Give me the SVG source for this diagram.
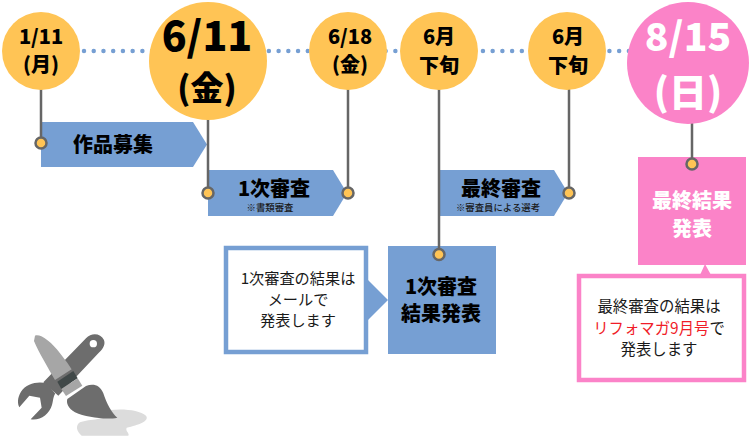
<svg xmlns="http://www.w3.org/2000/svg" width="750" height="440" viewBox="0 0 750 440">
<style>
text{font-family:"Noto Sans CJK JP","Noto Sans",sans-serif;text-anchor:middle}
.b{font-weight:900;fill:#000}
.w{font-weight:900;fill:#fff}
.t{font-size:15.200px;fill:#1a1a1a}
.s{font-size:9.400px;fill:#1a1a1a;font-weight:500}
.o{fill:#ffc455}
.p{fill:#fb83c8}
.bl{fill:#769fd3}
.pin{fill:#ffc455;stroke:#666;stroke-width:2.5}
.ln{stroke:#666;stroke-width:2.5;fill:none}
</style>
<rect width="750" height="440" fill="#fff"/>
<g id="connectors">
<path d="M84 51H632" fill="none" stroke="#769fd3" stroke-width="4.5" stroke-linecap="round" stroke-dasharray="0 9.73"/>
</g>
<g id="node-recruit"><path class="bl" d="M41 122H193L207 144.500L193 167H41Z"/><text class="b" x="113" y="152" font-size="20">作品募集</text></g>
<g id="node-first"><path class="bl" d="M208 170H333L347 193L333 216H208Z"/><text class="b" x="274" y="196" font-size="20">1次審査</text><text class="s" x="270" y="211">※書類審査</text></g>
<g id="node-final"><path class="bl" d="M440 170H554L568 193L554 216H440Z"/><text class="b" x="501" y="196" font-size="20">最終審査</text><text class="s" x="498" y="211">※審査員による選考</text></g>
<g id="node-note1"><rect x="226" y="248" width="140" height="104" fill="#fff" stroke="#769fd3" stroke-width="4.500"/><path class="bl" d="M368 280L388 300L368 320Z"/><text class="t" x="298" y="284">1次審査の結果は</text><text class="t" x="298" y="305">メールで</text><text class="t" x="298" y="326">発表します</text></g>
<g id="node-result1"><rect class="bl" x="388" y="246" width="108" height="108"/><text class="b" x="441" y="294" font-size="20">1次審査</text><text class="b" x="441" y="321" font-size="20">結果発表</text></g>
<g id="node-result2"><rect class="p" x="638" y="157" width="108" height="108"/><path class="p" d="M700 275L705 264L711 275Z"/><text class="w" x="692" y="208" font-size="20">最終結果</text><text class="w" x="692" y="236" font-size="20">発表</text></g>
<g id="node-note2"><rect x="579" y="276" width="165" height="104" fill="#fff" stroke="#fb83c8" stroke-width="4.500"/><text class="t" x="659" y="312" style="font-size:15.4px">最終審査の結果は</text><text class="t" x="659" y="334" style="font-size:15.4px"><tspan fill="#f01c28">リフォマガ9月号</tspan>で</text><text class="t" x="659" y="355" style="font-size:15.4px">発表します</text></g>
<g id="pin-lines">
<path class="ln" d="M41 88V143M208 118V193M348 88V193M439 88V254M569 88V193M692 122V164"/>
</g>
<g id="node-d1"><circle class="o" cx="41" cy="51" r="39"/><text class="b" x="41" y="44" font-size="20">1/11</text><text class="b" x="41" y="72" font-size="20">(月)</text></g>
<g id="node-d2"><circle class="o" cx="208" cy="61" r="59"/><text class="b" x="207" y="51" font-size="41">6/11</text><text class="b" x="207" y="100" font-size="33">(金)</text></g>
<g id="node-d3"><circle class="o" cx="348" cy="51" r="39"/><text class="b" x="350" y="44" font-size="20">6/18</text><text class="b" x="350" y="72" font-size="20">(金)</text></g>
<g id="node-d4"><circle class="o" cx="439" cy="51" r="39"/><text class="b" x="439" y="44" font-size="20">6月</text><text class="b" x="439" y="73" font-size="20">下旬</text></g>
<g id="node-d5"><circle class="o" cx="567" cy="51" r="39"/><text class="b" x="568" y="44" font-size="20">6月</text><text class="b" x="568" y="73" font-size="20">下旬</text></g>
<g id="node-d6"><circle class="p" cx="688" cy="63" r="61"/><text class="w" x="688" y="51" font-size="39">8/15</text><text class="w" x="688" y="106" font-size="38">(日)</text></g>
<g id="pins">
<circle class="pin" cx="41" cy="143" r="5.500"/><circle class="pin" cx="208" cy="193" r="5.500"/><circle class="pin" cx="348" cy="193" r="5.500"/><circle class="pin" cx="439" cy="254.500" r="5.500"/><circle class="pin" cx="569" cy="193" r="5.500"/><circle class="pin" cx="692" cy="164" r="5.500"/>
</g>
<g id="tools" transform="translate(10 325) scale(.3333)">
<path fill="#dcdcdc" d="M300 255C340 250 390 255 408 272C420 288 385 300 350 308C345 318 360 325 355 332H215C200 320 195 302 210 292C240 280 290 290 300 255Z"/>
<path fill="#6d6d6d" d="M228 40C245 22 272 25 282 45C288 62 275 75 265 85L145 212L100 172Z"/>
<path fill="#6d6d6d" d="M112 176C85 168 50 175 33 200C22 218 22 235 28 247L58 212L90 218L95 248L62 283C90 288 118 268 126 240C130 225 130 212 136 206Z"/>
<circle cx="250" cy="56" r="11" fill="#fff"/>
<path fill="#a6a6a6" d="M75 32C90 25 125 50 150 85C170 110 180 125 185 133L135 165C115 130 85 80 72 48Z"/>
<path fill="#404848" d="M142 170L190 138L203 160L154 192Z"/>
<path fill="#a6a6a6" d="M154 192L203 160L217 182L168 213Z"/>
<path fill="#6d6d6d" d="M172 222L228 183C250 175 270 180 280 205C290 235 305 265 322 278C290 285 230 278 195 262C175 250 168 235 172 222Z"/>
</g>
</svg>
